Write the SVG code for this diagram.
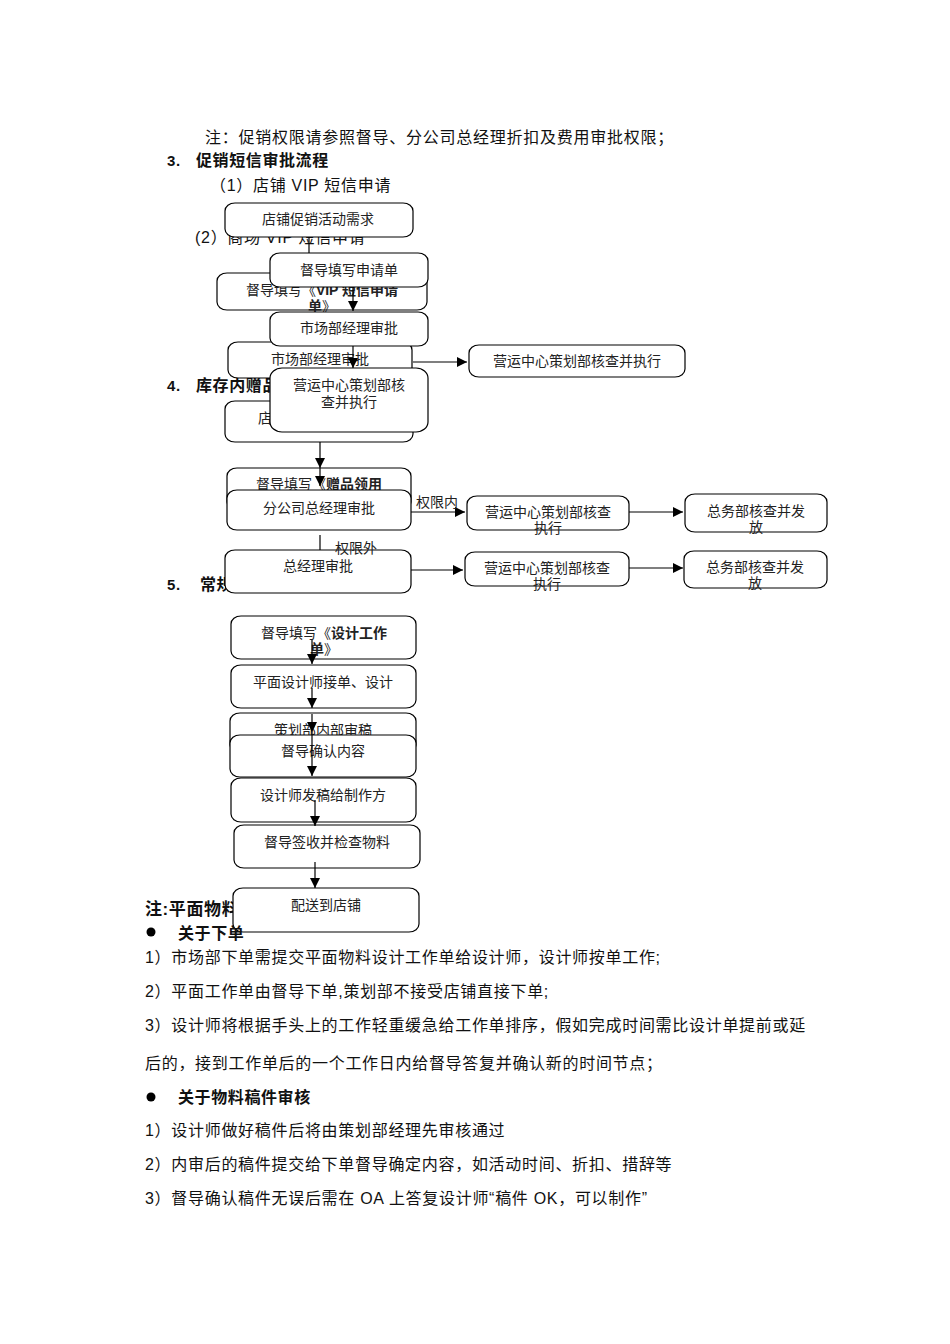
<svg xmlns="http://www.w3.org/2000/svg" width="950" height="1344" viewBox="0 0 950 1344">
<defs>
<style>
text{font-family:"Liberation Sans","Noto Sans CJK SC",sans-serif;fill:#111;}
.t{font-size:16px;letter-spacing:0.7px;}
.h{font-size:16px;font-weight:bold;letter-spacing:0.6px;}
.n{font-size:14px;text-anchor:middle;fill:#222;}
.lb{font-size:14px;fill:#222;}
.b{font-weight:bold;}
.box{fill:#fff;stroke:#000;stroke-width:1.2;}
.c{stroke:#000;stroke-width:1.2;fill:none;}
</style>
<marker id="ah" markerWidth="10" markerHeight="10" refX="10" refY="5" orient="auto" markerUnits="userSpaceOnUse">
<path d="M0,0 L10,5 L0,10 Z" fill="#000"/>
</marker>
</defs>
<rect width="950" height="1344" fill="#fff"/>

<g id="header-text">
<text class="t" x="205" y="143" style="letter-spacing:0.75px">注：促销权限请参照督导、分公司总经理折扣及费用审批权限；</text>
<text class="h" x="167" y="166" style="font-size:15px">3.</text>
<text class="h" x="196" y="166">促销短信审批流程</text>
<text class="t" x="210" y="191">（1）店铺 VIP 短信申请</text>
<text class="t" x="195" y="243">(2）商场 VIP 短信申请</text>
<text class="h" x="167" y="391" style="font-size:15px">4.</text>
<text class="h" x="196" y="391">库存内赠品</text>
<text class="h" x="167" y="590" style="font-size:15px">5.</text>
<text class="h" x="200" y="590">常规</text>
<text class="h" x="145" y="915" style="font-size:17px">注:平面物料</text>
</g>

<g id="n1"><rect class="box" x="225" y="203" width="188" height="34" rx="10" ry="8"/><text class="n" x="318" y="224">店铺促销活动需求</text></g>
<g id="n2"><rect class="box" x="217" y="273" width="210" height="37" rx="10" ry="8"/><text class="n" x="322" y="295">督导填写《<tspan class="b">VIP 短信申请</tspan></text><text class="n" x="322" y="311"><tspan class="b">单</tspan>》</text></g>
<g id="n3"><rect class="box" x="270" y="253" width="158" height="34" rx="10" ry="8"/><text class="n" x="349" y="275">督导填写申请单</text></g>
<g id="n5"><rect class="box" x="228" y="342" width="184" height="36" rx="10" ry="8"/><text class="n" x="320" y="364">市场部经理审批</text></g>
<g id="n4"><rect class="box" x="270" y="312" width="158" height="34" rx="10" ry="8"/><text class="n" x="349" y="333">市场部经理审批</text></g>
<g id="n6"><rect class="box" x="469" y="345" width="216" height="32" rx="10" ry="8"/><text class="n" x="577" y="366">营运中心策划部核查并执行</text></g>
<g id="n8"><rect class="box" x="225" y="401" width="188" height="41" rx="10" ry="8"/><text class="lb" x="258" y="423">店</text></g>
<g id="n7"><rect class="box" x="270" y="368" width="158" height="64" rx="12" ry="10"/><text class="n" x="349" y="390">营运中心策划部核</text><text class="n" x="349" y="407">查并执行</text></g>

<g id="n9"><rect class="box" x="227" y="468" width="184" height="42" rx="10" ry="8"/><text class="n" x="319" y="489">督导填写《<tspan class="b">赠品领用</tspan></text></g>
<g id="n10"><rect class="box" x="227" y="490" width="184" height="40" rx="10" ry="8"/><text class="n" x="319" y="513">分公司总经理审批</text></g>
<g id="n12"><rect class="box" x="467" y="496" width="162" height="34" rx="10" ry="8"/><text class="n" x="548" y="517">营运中心策划部核查</text><text class="n" x="548" y="533">执行</text></g>
<g id="n14"><rect class="box" x="685" y="494" width="142" height="38" rx="10" ry="8"/><text class="n" x="756" y="516">总务部核查并发</text><text class="n" x="756" y="532">放</text></g>
<g id="n16"><rect class="box" x="225" y="550" width="186" height="43" rx="10" ry="8"/><text class="n" x="318" y="571">总经理审批</text></g>
<g id="n18"><rect class="box" x="465" y="552" width="164" height="34" rx="10" ry="8"/><text class="n" x="547" y="573">营运中心策划部核查</text><text class="n" x="547" y="589">执行</text></g>
<g id="n20"><rect class="box" x="684" y="551" width="143" height="37" rx="10" ry="8"/><text class="n" x="755" y="572">总务部核查并发</text><text class="n" x="755" y="588">放</text></g>

<g id="n21"><rect class="box" x="231" y="616" width="185" height="43" rx="10" ry="8"/><text class="n" x="324" y="638">督导填写《<tspan class="b">设计工作</tspan></text><text class="n" x="324" y="654"><tspan class="b">单</tspan>》</text></g>
<g id="n22"><rect class="box" x="231" y="665" width="185" height="43" rx="10" ry="8"/><text class="n" x="323" y="687">平面设计师接单、设计</text></g>
<g id="n23"><rect class="box" x="230" y="713" width="186" height="40" rx="10" ry="8"/><text class="n" x="323" y="735">策划部内部审稿</text></g>
<g id="n24"><rect class="box" x="230" y="735" width="186" height="42" rx="10" ry="8"/><text class="n" x="323" y="756">督导确认内容</text></g>
<g id="n25"><rect class="box" x="231" y="778" width="185" height="44" rx="10" ry="8"/><text class="n" x="323" y="800">设计师发稿给制作方</text></g>
<g id="n26"><rect class="box" x="234" y="825" width="186" height="43" rx="10" ry="8"/><text class="n" x="327" y="847">督导签收并检查物料</text></g>
<g id="n27"><rect class="box" x="233" y="888" width="186" height="44" rx="10" ry="8"/><text class="n" x="326" y="910">配送到店铺</text></g>

<g id="connectors">
<line class="c" x1="309" y1="237" x2="309" y2="253"/>
<line class="c" x1="353" y1="287" x2="353" y2="311" marker-end="url(#ah)"/>
<line class="c" x1="353" y1="346" x2="353" y2="368" marker-end="url(#ah)"/>
<line class="c" x1="413" y1="362" x2="467" y2="362" marker-end="url(#ah)"/>
<line class="c" x1="320" y1="442" x2="320" y2="468" marker-end="url(#ah)"/>
<line class="c" x1="320" y1="468" x2="320" y2="486" marker-end="url(#ah)"/>
<line class="c" x1="411" y1="512" x2="465" y2="512" marker-end="url(#ah)"/>
<line class="c" x1="629" y1="512" x2="683" y2="512" marker-end="url(#ah)"/>
<line class="c" x1="320" y1="535" x2="320" y2="550"/>
<line class="c" x1="411" y1="570" x2="463" y2="570" marker-end="url(#ah)"/>
<line class="c" x1="629" y1="568" x2="683" y2="568" marker-end="url(#ah)"/>
<line class="c" x1="312" y1="640" x2="312" y2="664" marker-end="url(#ah)"/>
<line class="c" x1="312" y1="688" x2="312" y2="708" marker-end="url(#ah)"/>
<line class="c" x1="312" y1="714" x2="312" y2="732" marker-end="url(#ah)"/>
<line class="c" x1="312" y1="732" x2="312" y2="776" marker-end="url(#ah)"/>
<line class="c" x1="315" y1="800" x2="315" y2="826" marker-end="url(#ah)"/>
<line class="c" x1="315" y1="862" x2="315" y2="888" marker-end="url(#ah)"/>
<text class="lb" x="416" y="507">权限内</text>
<text class="lb" x="335" y="553">权限外</text>
</g>

<g id="notes">
<circle cx="151" cy="932" r="4.5" fill="#000"/>
<text class="h" x="178" y="939">关于下单</text>
<text class="t" x="145" y="963">1）市场部下单需提交平面物料设计工作单给设计师，设计师按单工作;</text>
<text class="t" x="145" y="997">2）平面工作单由督导下单,策划部不接受店铺直接下单;</text>
<text class="t" x="145" y="1031">3）设计师将根据手头上的工作轻重缓急给工作单排序，假如完成时间需比设计单提前或延</text>
<text class="t" x="145" y="1069">后的，接到工作单后的一个工作日内给督导答复并确认新的时间节点；</text>
<circle cx="151" cy="1097" r="4.5" fill="#000"/>
<text class="h" x="178" y="1103">关于物料稿件审核</text>
<text class="t" x="145" y="1136">1）设计师做好稿件后将由策划部经理先审核通过</text>
<text class="t" x="145" y="1170">2）内审后的稿件提交给下单督导确定内容，如活动时间、折扣、措辞等</text>
<text class="t" x="145" y="1204">3）督导确认稿件无误后需在 OA 上答复设计师“稿件 OK，可以制作”</text>
</g>
</svg>
